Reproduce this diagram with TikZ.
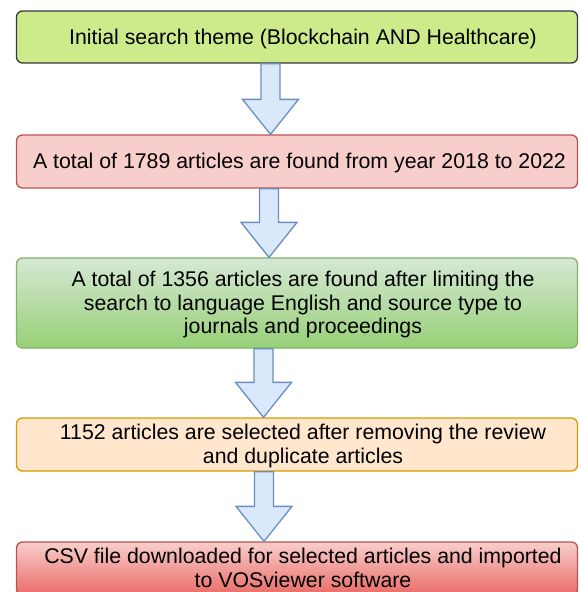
\documentclass[tikz,border=0pt]{standalone}
\usepackage{fontspec}
\setmainfont{Liberation Sans}
\usetikzlibrary{calc}
\definecolor{limefill}{HTML}{CDEB8B}
\definecolor{limedraw}{HTML}{36393D}
\definecolor{pinkfill}{HTML}{F8CECC}
\definecolor{reddraw}{HTML}{B85450}
\definecolor{greentop}{HTML}{D5E8D4}
\definecolor{greenbot}{HTML}{97D077}
\definecolor{greendraw}{HTML}{82B366}
\definecolor{orangefill}{HTML}{FFE6CC}
\definecolor{orangedraw}{HTML}{D79B00}
\definecolor{redbot}{HTML}{EA6B66}
\definecolor{bluefill}{HTML}{DAE8FC}
\definecolor{bluedraw}{HTML}{6C8EBF}
\tikzset{
  box/.style={rounded corners=6pt, line width=1.3pt, minimum width=561pt},
  boxtext/.style={align=center, inner sep=0pt, xshift=6pt, yshift=-1.5pt,
    font=\fontsize{21.3}{23.3}\selectfont},
  blk/.style={fill=bluefill, draw=bluedraw, line width=1.3pt, line join=miter}
}
\newcommand\blkarrow[3]{%
  \path[blk] let \p1=(#2.south), \p2=(#3.north) in
    (#1pt-9.5pt,\y1) -- (#1pt-9.5pt,\y2+35pt) -- (#1pt-28pt,\y2+35pt) --
    (#1pt,\y2) -- (#1pt+28pt,\y2+35pt) -- (#1pt+9.5pt,\y2+35pt) --
    (#1pt+9.5pt,\y1) -- cycle;}
\begin{document}
\begin{tikzpicture}[x=1pt,y=-1pt]
\useasboundingbox (0,0) rectangle (579,592);
\node[box, fill=limefill, draw=limedraw, minimum height=52pt,
  label={[boxtext]center:Initial search theme (Blockchain AND Healthcare)}] (b1) at (297,37) {};
\node[box, fill=pinkfill, draw=reddraw, minimum height=53pt,
  label={[boxtext, xshift=-3.5pt]center:A total of 1789 articles are found from year 2018 to 2022}] (b2) at (297,161.5) {};
\node[box, top color=greentop, bottom color=greenbot, draw=greendraw, minimum height=90pt,
  label={[boxtext]center:A total of 1356 articles are found after limiting the\\search to language English and source type to\\journals and proceedings}] (b3) at (297,303) {};
\node[box, fill=orangefill, draw=orangedraw, minimum height=53pt,
  label={[boxtext]center:1152 articles are selected after removing the review\\and duplicate articles}] (b4) at (297,444.5) {};
\node[box, top color=pinkfill, bottom color=redbot, draw=reddraw, minimum height=53pt,
  label={[boxtext, yshift=2pt]center:CSV file downloaded for selected articles and imported\\to VOSviewer software}] (b5) at (297,568.5) {};
\blkarrow{270.5}{b1}{b2}
\blkarrow{269}{b2}{b3}
\blkarrow{263.5}{b3}{b4}
\blkarrow{264}{b4}{b5}
\end{tikzpicture}
\end{document}
